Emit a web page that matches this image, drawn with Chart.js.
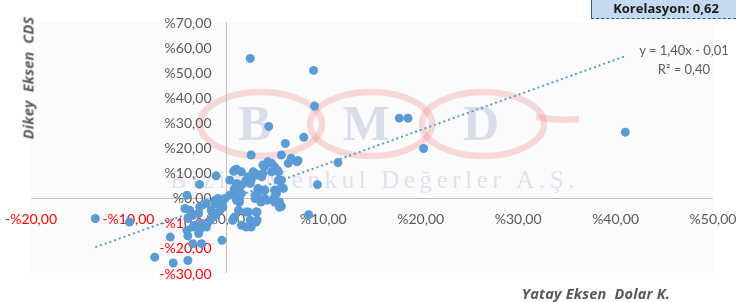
<!DOCTYPE html>
<html><head><meta charset="utf-8">
<script src="https://cdn.jsdelivr.net/npm/chart.js@4.4.1/dist/chart.umd.min.js"></script>
<style>
html,body{margin:0;padding:0;background:#fff;}
#wrap{position:relative;width:736px;height:302px;overflow:hidden;background:#fff;}
canvas{position:absolute;left:0;top:0;}
.t{position:absolute;font-family:Lato,"Open Sans",sans-serif;color:#595959;white-space:pre;}
#ytitle{left:28px;top:78px;transform:translate(-50%,-50%) rotate(-90deg);font-family:"Open Sans",sans-serif;font-weight:bold;font-style:italic;font-size:14.5px;letter-spacing:0.2px;}
#xtitle{left:596px;top:293px;transform:translate(-50%,-50%);font-family:"Open Sans",sans-serif;font-weight:bold;font-style:italic;font-size:14.5px;letter-spacing:0.2px;}
#korel{left:591px;top:0;width:145px;height:19px;background:#c5d9f1;border-bottom:1px dashed #2e5c9a;border-left:1px solid #2e5c9a;color:#1a1a1a;font-family:"Open Sans",sans-serif;font-weight:bold;font-size:13px;line-height:17px;text-align:center;box-sizing:border-box;padding-left:4px;}
#eq{left:684px;top:50px;transform:translate(-50%,-50%);font-size:13px;}
#r2{left:684px;top:69px;transform:translate(-50%,-50%);font-size:13px;}
</style></head><body>
<div id="wrap">
<canvas id="c" width="736" height="302"></canvas>
<div class="t" id="ytitle">Dikey  Eksen  CDS</div>
<div class="t" id="xtitle">Yatay Eksen  Dolar K.</div>
<div class="t" id="korel">Korelasyon: 0,62</div>
<div class="t" id="eq">y = 1,40x - 0,01</div>
<div class="t" id="r2">R² = 0,40</div>
</div>
<script>
// Dolar K. change (%) — horizontal axis
const xVals = [
 2.5, 9.0, 9.1, 4.4, 17.8, 18.7, 8.0, 6.1, 20.3, 41.0, 2.6, 5.7, 11.5, 9.4, 8.5, -13.4, -9.9, -7.3, -5.4, -3.9, -5.7, -3.9, -3.4, -2.5, -0.4, -1.0, -2.7, -4.0, 1.1,
 6.7, 7.3, 6.4, 7.4, 4.3, 4.7, 4.0, 3.8, 5.0, 5.3, 5.4, 4.7, 3.8, 2.8, 3.2, 3.7, 2.3, 3.0, 1.6, 0.8, 0.9,
 5.4, 5.7, 2.1, 2.6, 2.0, 2.5, 1.6, 1.1, 0.4, 0.9, 0.9, 1.1, 1.3, 1.6, 0.4, 5.9, 5.7, 5.2, 5.0, 5.2, 5.0, 3.3, 3.8, 4.0, 3.3, 3.0, 3.2,
 4.0, 3.0, 3.6, 4.2, 4.9, 5.0, 5.5, 5.7, 5.5, 1.4, 1.1, 1.4, -0.1, -0.8, -1.1, -1.1, -0.4, -0.4, -0.3, -2.0, -2.7, -4.2,
 2.3, 3.1, 2.1, 3.2, 2.8, 3.1, 2.5, 3.2, 2.1, 2.6, 1.6, 1.3, 0.9, 0.7, -0.6, -1.0, -1.5, -1.1, -1.3, -1.6, -2.0, -2.5, -2.7, -3.2, -3.4, -4.0, -2.8, -2.8, -3.7, -3.4, -3.9
];
// CDS change (%) — vertical axis
const yVals = [
 55.5, 50.7, 36.5, 28.4, 31.7, 31.7, 24.1, 21.6, 19.6, 26.1, 17.0, 17.0, 14.0, 5.2, -6.8, -8.3, -9.7, -23.7, -26.0, -25.0, -15.7, -15.2, -18.3, -18.3, -17.0, 8.7, 5.3, 1.0, 11.3,
 15.7, 14.3, 13.7, 14.8, 14.3, 13.7, 12.6, 13.0, 12.3, 11.0, 10.3, 10.3, 9.7, 10.3, 9.0, 8.3, 8.3, 9.7, 10.3, 10.5, 11.0,
 7.0, 7.0, 7.0, 7.0, 6.3, 5.7, 5.0, 5.7, 7.0, 3.7, 3.0, 1.7, 1.7, 1.7, 1.0, 3.7, 4.3, 3.0, 3.0, 1.7, 0.3, 3.7, 3.0, 3.0, 3.0, 1.0, 1.0,
 -0.3, -0.3, -1.7, -1.0, -1.0, -1.7, -1.7, -3.5, -3.8, -0.3, -1.0, -1.7, -0.3, -0.3, -1.0, -2.3, -2.3, -3.0, -3.7, -2.3, -3.7, -4.3,
 -5.7, -5.7, -5.7, -5.7, -9.7, -9.7, -9.0, -9.0, -11.7, -11.7, -11.0, -5.0, -7.7, -9.0, -5.0, -6.3, -5.0, -7.0, -7.7, -9.0, -11.7, -10.3, -13.0, -11.0, -11.7, -13.0, -14.3, -6.3, -5.0, -7.0, -8.3
];
const xTickLabels = ['-%20,00','-%10,00','%0,00','%10,00','%20,00','%30,00','%40,00','%50,00'];
const yTickLabels = ['-%30,00','-%20,00','-%10,00','%0,00','%10,00','%20,00','%30,00','%40,00','%50,00','%60,00','%70,00'];
// Linear trendline shown on the chart: y = 1,40x - 0,01
const trendSlope = 1.40;
const trendIntercept = -0.01;

const points = xVals.map((x, i) => ({x: x, y: yVals[i]}));
const xMin = Math.min(...xVals), xMax = Math.max(...xVals);
const trend = [xMin, xMax].map(x => ({x: x, y: trendSlope * x + trendIntercept * 100}));

const bgPlugin = {
  id: 'bgwm',
  beforeDraw(chart) {
    const ctx = chart.ctx, a = chart.chartArea;
    ctx.save();
    ctx.fillStyle = '#fbfbfb';
    ctx.fillRect(a.left, a.top, a.right - a.left, a.bottom - a.top);
    // watermark
    ctx.strokeStyle = 'rgba(235,110,110,0.25)';
    ctx.lineWidth = 6.5;
    [[261,124],[371,124],[483,124]].forEach(c => {
      ctx.beginPath();
      ctx.ellipse(c[0], c[1], 61, 32, 0, 0, Math.PI * 2);
      ctx.stroke();
    });
    ctx.beginPath();
    ctx.moveTo(536, 117); ctx.quadraticCurveTo(560, 121, 579, 119); ctx.stroke();
    ctx.fillStyle = 'rgba(150,160,200,0.33)';
    ctx.font = 'bold 50px "Liberation Serif", serif';
    ctx.textAlign = 'center';
    ctx.textBaseline = 'alphabetic';
    ctx.fillText('B', 255, 140);
    ctx.fillText('M', 366, 140);
    ctx.fillText('D', 481, 140);
    ctx.font = '25px "Liberation Serif", serif';
    ctx.textAlign = 'left';
    try { ctx.letterSpacing = '4.6px'; } catch (e) {}
    ctx.fillStyle = 'rgba(150,160,200,0.28)';
    ctx.fillText('Bizim Menkul Değerler A.Ş.', 170, 188);
    ctx.restore();
  },
  // axis lines crossing at (0,0) and y tick labels left of the y axis
  beforeDatasetsDraw(chart) {
    const ctx = chart.ctx, ys = chart.scales.y, xs = chart.scales.x, a = chart.chartArea;
    const x0 = Math.round(xs.getPixelForValue(0)) + 0.5;
    const y0 = Math.round(ys.getPixelForValue(0)) + 0.5;
    ctx.save();
    ctx.strokeStyle = '#bfbfbf';
    ctx.lineWidth = 1;
    ctx.beginPath();
    ctx.moveTo(x0, a.top); ctx.lineTo(x0, a.bottom);
    ctx.moveTo(a.left, y0); ctx.lineTo(a.right, y0);
    ctx.stroke();
    ctx.font = '14px Lato, sans-serif';
    ctx.textAlign = 'right';
    ctx.textBaseline = 'middle';
    ys.ticks.forEach((t, i) => {
      ctx.fillStyle = t.value < 0 ? '#ff0000' : '#595959';
      ctx.fillText(yTickLabels[i], x0 - 15, ys.getPixelForValue(t.value) + 1);
    });
    ctx.restore();
  }
};

new Chart(document.getElementById('c'), {
  type: 'scatter',
  data: {
    datasets: [
      {
        type: 'line', data: trend, showLine: true, order: 0,
        borderColor: '#5b9bd5', borderWidth: 2, borderDash: [2, 3],
        pointRadius: 0, fill: false
      },
      {
        data: points, order: 1,
        backgroundColor: '#5b9bd5', borderWidth: 0, pointRadius: 4.5, pointHoverRadius: 4.5
      }
    ]
  },
  options: {
    responsive: false, animation: false,
    layout: {padding: {left: 31, right: 23, top: 22, bottom: 29}},
    plugins: {legend: {display: false}, tooltip: {enabled: false}},
    scales: {
      x: {
        type: 'linear', min: -20, max: 50, position: {y: 0},
        afterFit: s => { s.paddingLeft = 0; s.paddingRight = 0; },
        grid: {display: false, drawTicks: false},
        border: {display: false},
        ticks: {
          stepSize: 10, padding: 13, maxRotation: 0, autoSkip: false,
          font: {family: 'Lato', size: 14},
          color: c => (c.tick && c.tick.value < 0) ? '#ff0000' : '#595959',
          callback: (v, i) => xTickLabels[i]
        }
      },
      y: {
        type: 'linear', min: -30, max: 70, position: {x: 0},
        afterFit: s => { s.paddingTop = 0; s.paddingBottom = 0; },
        grid: {display: false, drawTicks: false},
        border: {display: false},
        ticks: {
          stepSize: 10, autoSkip: false, display: false,
          callback: (v, i) => yTickLabels[i]
        }
      }
    }
  },
  plugins: [bgPlugin]
});
</script>
</body></html>
